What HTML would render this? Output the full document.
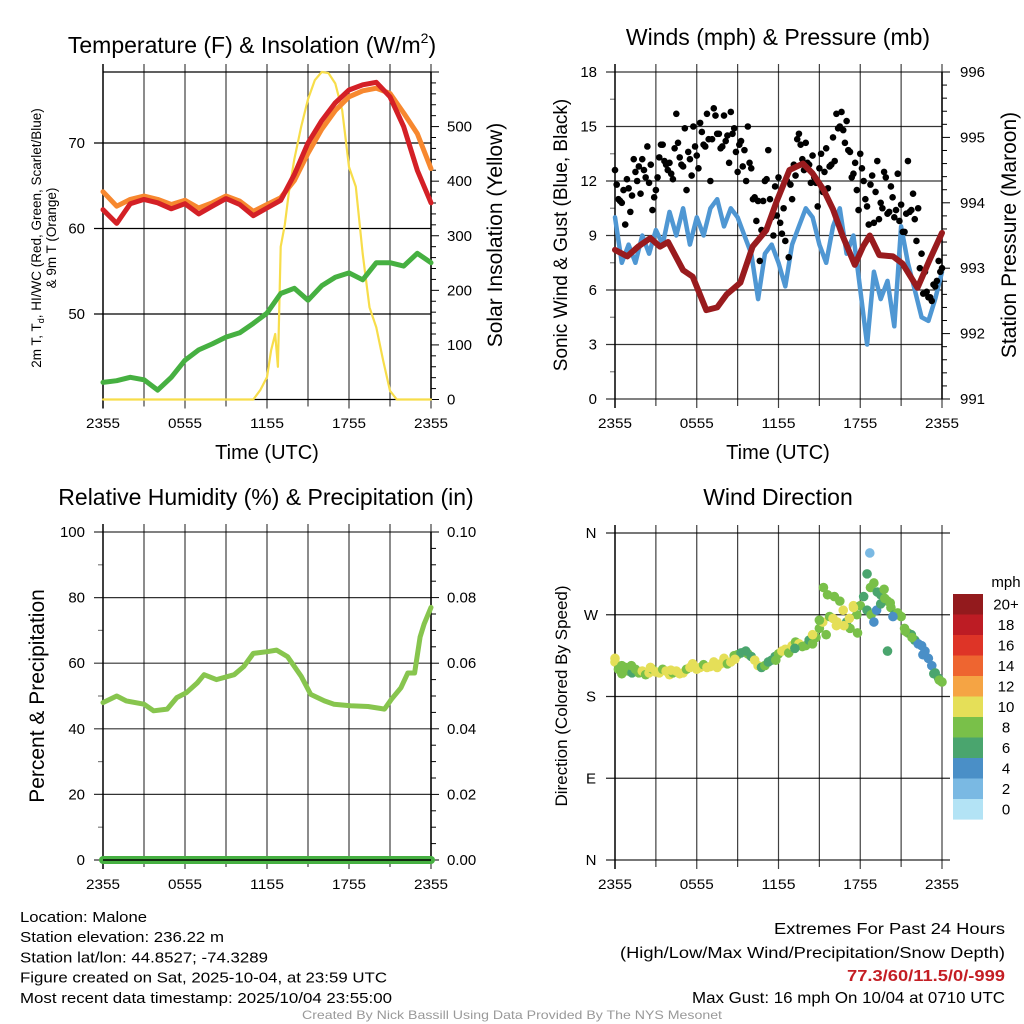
<!DOCTYPE html>
<html><head><meta charset="utf-8"><style>
html,body{margin:0;padding:0;background:#fff}
svg{display:block;font-family:"Liberation Sans",sans-serif}
</style></head><body>
<svg id="c" width="1024" height="1024" viewBox="0 0 1024 1024" xmlns="http://www.w3.org/2000/svg"></svg>
<script>
// ---------- data ----------
const hourly = [0,1,2,3,4,5,6,7,8,9,10,11,12,13,14,15,16,17,18,19,20,21,22,23,24];
const temp2m = [62.2,60.6,62.9,63.4,63.0,62.3,62.9,61.7,62.6,63.5,62.8,61.5,62.4,63.3,66.3,70.0,72.6,74.7,76.2,76.8,77.1,75.4,71.9,66.8,63.0];
const temp9m = [64.3,62.6,63.4,63.8,63.4,62.8,63.3,62.4,63.0,63.8,63.2,62.0,62.8,63.6,65.6,68.8,71.6,73.8,75.4,76.1,76.4,75.8,73.5,71.1,67.0];
const dewpt  = [42.0,42.2,42.6,42.3,41.1,42.6,44.6,45.8,46.5,47.3,47.8,48.9,50.1,52.4,53.0,51.6,53.3,54.3,54.8,54.0,56.0,56.0,55.6,57.1,56.0];
const solarTimes = [0,11,11.5,12,12.3,12.6,12.8,13,13.3,13.6,14,14.5,15,15.5,16,16.5,17,17.5,18,18.5,19,19.5,20,20.5,21,21.5,24];
const solarVals  = [0,0,17,41,90,120,60,280,320,380,440,500,550,585,600,598,579,530,426,390,267,169,132,71,16,0,0];
const halfHour = [0,0.5,1,1.5,2,2.5,3,3.5,4,4.5,5,5.5,6,6.5,7,7.5,8,8.5,9,9.5,10,10.5,11,11.5,12,12.5,13,13.5,14,14.5,15,15.5,16,16.5,17,17.5,18,18.5,19,19.5,20,20.5,21,21.5,22,22.5,23,23.5,24];
const windSpeed = [10,7.5,8.5,7.5,9,8,9.3,8.5,10.3,9,10.5,8.5,10,9,10.5,11,9.5,10.5,10,9,8,5.5,8,8.5,7.5,6.2,8.5,9.5,10.5,10,8.5,7.5,9.5,10.5,8,9,6,3,7,5.5,6.5,4,9.5,7.5,6,4.5,4.3,5.5,7];
const pressTimes = [0,0.9,1.7,2.6,3.3,3.9,5,5.7,6.7,7.5,8.2,9.2,10.1,11.1,11.9,12.8,13.8,14.5,15.3,16,16.7,17.6,18.2,18.7,19.4,20.4,21.1,22.2,23.1,24];
const pressure = [993.28,993.18,993.33,993.46,993.33,993.4,992.97,992.87,992.36,992.4,992.6,992.78,993.33,993.58,994.04,994.5,994.6,994.45,994.2,993.9,993.5,993.05,993.33,993.5,993.2,993.18,993.07,992.7,993.13,993.54];
const gusts = [12.6,11.0,10.8,9.6, 11.6,11.2,12.5,12.8, 13.2,12.2,11.9,10.4, 11.5,13.3,14.0,12.9, 13.0,12.1,15.7,13.3,
 12.8,11.5,13.2,15.0, 13.4,15.2,14.0,15.7, 12.0,16.0,14.6,13.8, 15.6,14.5,15.8,14.9, 12.5,14.2,13.7,15.0,
 12.7,11.1,10.9,9.3, 12.0,13.7,10.0,11.7, 12.2,9.1,8.7,7.8, 11.0,12.3,14.6,13.2, 14.1,12.9,13.4,11.9,
 12.7,11.4,13.8,12.8, 14.4,15.7,15.0,14.8, 15.3,13.6,12.4,11.5, 13.5,12.0,10.6,11.8, 9.7,13.1,10.8,12.5,
 10.2,11.7,10.0,12.4, 10.7,9.2,13.1,10.4, 9.9,10.5,8.0,7.0, 5.6,5.4,6.2,7.6, 7.2];
const gusts2 = [11.8,10.9,11.5,12.1, 10.3,13.2,12.0,11.3, 12.6,13.9,12.9,11.1, 12.2,14.0,13.1,12.6, 12.4,13.8,14.1,12.9,
 14.9,13.6,12.3,13.9, 12.7,14.7,13.9,14.3, 14.3,15.6,14.6,13.9, 14.2,13.0,14.6,13.6, 14.0,12.8,12.0,13.0,
 11.0,9.8,7.6,10.9, 12.1,11.0,9.0,10.1, 9.7,10.5,12.0,11.8, 12.9,14.3,14.0,12.6, 13.0,11.9,12.2,10.6,
 13.5,12.5,11.6,12.9, 13.1,14.9,15.8,14.1, 13.7,12.2,13.0,10.4, 12.7,11.0,9.6,12.3, 11.4,9.9,10.5,12.2,
 10.3,11.1,10.4,9.8, 9.2,10.2,10.3,11.3, 8.7,7.2,5.8,5.9, 5.6,6.3,6.5,7.0];
const rhTimes = [0,1,1.7,3,3.7,4.7,5.4,6.1,6.9,7.4,8.3,9.6,10.3,11,12,12.7,13.5,14.5,15.2,16.2,16.9,18.1,19.4,20.6,21.1,21.8,22.3,22.8,23.2,23.5,24];
const rh = [48,50,48.5,47.5,45.5,46,49.5,51,54,56.5,55,56.5,59,63,63.5,64,62,56,50.5,48.5,47.5,47,46.8,46,49,52.5,57,57,68,72,77];
const precip = [0,0];
const dirDirs = [218,210,205,212,208,206,210,206,208,204,206,210,207,206,210,208,204,206,208,205,206,210,212,214,210,212,215,212,213,218,212,216,222,216,218,225,226,228,229,227,224,220,214,212,214,218,220,224,227,230,232,228,236,240,238,235,236,242,238,245,255,262,248,268,266,258,285,275,262,255,280,270,280,290,275,300,305,295,292,298,285,278,270,272,268,255,250,248,242,238,236,230,222,214,206,200,196];
const dirSpeeds = [11,9,9,9,9,7,9,9,11,9,11,9,11,11,9,11,11,9,11,11,11,9,11,11,11,11,9,11,11,11,11,11,11,9,11,9,9,7,7,9,7,11,11,7,9,7,7,7,9,11,11,9,11,9,11,9,9,7,9,9,9,11,9,9,11,11,9,11,7,9,11,9,9,7,7,9,9,7,7,9,9,9,7,9,9,9,9,7,7,5,5,5,5,5,7,7,9];
const extraTimes = [0,0.5,15.3,15.6,16.3,16.8,17.5,17.8,18.5,18.7,18.8,19,19.2,19.5,20,20.4,20.2,21.3,14.5,15,1.2,2.6,4.1,5.7,7.3,8.8,9.6,11.8,13.2,16.1,17.2,19.8,21.8,22.6,23.4,23.8];
const extraDirs = [222,214,300,292,262,258,278,250,315,338,270,262,275,282,230,268,283,252,248,264,214,212,209,216,214,221,230,220,233,290,266,288,245,226,205,198];
const extraSpeeds = [11,9,9,9,11,11,11,9,7,3,9,5,5,7,7,5,9,9,11,9,9,11,11,11,11,11,7,9,7,9,11,9,9,5,7,9];
const cbLabels = ["20+","18","16","14","12","10","8","6","4","2","0"];
const cbColors = ["#931a1d","#bd1c24","#de3427","#ee6530","#f5a444","#e5df58","#79c049","#4aa56e","#4a8fc7","#7ab9e3","#b3e3f5"];
const timeLabels = ["2355","0555","1155","1755","2355"];

// ---------- helpers ----------
const NS="http://www.w3.org/2000/svg";
const svg=document.getElementById('c');
function mk(tag,attrs,parent){const e=document.createElementNS(NS,tag);for(const k in attrs)e.setAttribute(k,attrs[k]);(parent||svg).appendChild(e);return e;}
function txt(s,x,y,size,anchor,extra,parent){const e=mk('text',Object.assign({x:x,y:y,'font-size':size,'text-anchor':anchor||'middle',fill:'#000'},extra||{}),parent);e.textContent=s;return e;}
function lin(d0,d1,r0,r1){return v=>r0+(v-d0)/(d1-d0)*(r1-r0);}
function poly(xs,ys,fx,fy,color,w,parent){let d='';for(let i=0;i<xs.length;i++)d+=(i?'L':'M')+fx(xs[i]).toFixed(1)+' '+fy(ys[i]).toFixed(1);return mk('path',{d:d,fill:'none',stroke:color,'stroke-width':w,'stroke-linejoin':'round','stroke-linecap':'round'},parent);}
function panelFrame(P,name){
  const g=mk('g',{});
  
  
  for(let i=0;i<=8;i++){const x=P.x0+i*(P.x1-P.x0)/8;mk('line',{x1:x,y1:P.yt-8,x2:x,y2:P.yb+(i%2===0?9:7),stroke:'#000','stroke-width':i===0?2:1.2,'stroke-opacity':0.75},g);}
  return g;
}
function xTicks(P,y,name){
  const g=mk('g',{});
  
  
  timeLabels.forEach((s,i)=>{txt(s,P.x0+i*(P.x1-P.x0)/4,y,14,'middle',{textLength:34,lengthAdjust:'spacingAndGlyphs'},g);});
}

// ===== Panel 1: Temperature =====
const P1={x0:103,x1:431,yt:72,yb:399.5};
const x1f=lin(0,24,P1.x0,P1.x1), yT=lin(40,78.3,P1.yb,P1.yt), yS=lin(0,600,P1.yb,P1.yt);
txt('Temperature (F) & Insolation (W/m',252,53,23,'middle',{}).innerHTML='Temperature (F) &amp; Insolation (W/m<tspan font-size="14" dy="-10">2</tspan><tspan dy="10">)</tspan>';
panelFrame(P1,'temp');
[50,60,70].forEach(v=>{mk('line',{x1:P1.x0-9,y1:yT(v),x2:P1.x1,y2:yT(v),stroke:'#000','stroke-width':1.2});txt(String(v),85,yT(v)+5,15,'end');});
mk('line',{x1:P1.x0,y1:P1.yt,x2:P1.x1,y2:P1.yt,stroke:'#000','stroke-width':1.2});
mk('line',{x1:P1.x0,y1:P1.yb,x2:P1.x1,y2:P1.yb,stroke:'#000','stroke-width':1.2});
mk('line',{x1:P1.x1,y1:P1.yt,x2:P1.x1,y2:P1.yb,stroke:'#000','stroke-width':1.5});
for(let v=0;v<=600;v+=20){const y=yS(v);mk('line',{x1:P1.x1,y1:y,x2:P1.x1+(v%100===0?8:5),y2:y,stroke:'#000','stroke-width':1});if(v%100===0&&v<600)txt(String(v),447,y+5,15,'start');}
poly(solarTimes,solarVals,x1f,yS,'#f7dd4a',2.2);
poly(hourly,dewpt,x1f,yT,'#46b041',5);
poly(hourly,temp9m,x1f,yT,'#f7882f',5);
poly(hourly,temp2m,x1f,yT,'#d42026',5);
xTicks(P1,428,'temp');
txt('Time (UTC)',267,459,20,'middle',{});
const l1=txt('',0,0,13.5,'middle',{transform:'translate(41,238) rotate(-90)',});
l1.innerHTML='2m T, T<tspan font-size="9" dy="3">d</tspan><tspan dy="-3">, HI/WC (Red, Green, Scarlet/Blue)</tspan>';
txt('& 9m T (Orange)',0,0,13.5,'middle',{transform:'translate(56,238) rotate(-90)'});
txt('Solar Insolation (Yellow)',0,0,21,'middle',{transform:'translate(502,235) rotate(-90)',});

// ===== Panel 2: Winds =====
const P2={x0:615,x1:942,yt:72,yb:399};
const x2f=lin(0,24,P2.x0,P2.x1), yW=lin(0,18,P2.yb,P2.yt), yP=lin(991,996,P2.yb,P2.yt);
txt('Winds (mph) & Pressure (mb)',778,45,23,'middle',{});
panelFrame(P2,'winds');
for(let v=0;v<=18;v+=1.5){const y=yW(v);const major=v%3===0;mk('line',{x1:P2.x0-(major?9:5),y1:y,x2:major?P2.x1:P2.x0,y2:y,stroke:'#000','stroke-width':1.2,'stroke-opacity':major?0.8:0.5});if(major)txt(String(v),597,y+5,15,'end');}
mk('line',{x1:P2.x1,y1:P2.yt,x2:P2.x1,y2:P2.yb,stroke:'#000','stroke-width':1.5});
for(let v=991;v<=996.001;v+=0.2){const y=yP(v);const major=Math.abs(v-Math.round(v))<0.01;mk('line',{x1:P2.x1,y1:y,x2:P2.x1+(major?8:5),y2:y,stroke:'#000','stroke-width':1});if(major)txt(String(Math.round(v)),960,y+5,15,'start');}
poly(halfHour,windSpeed,x2f,yW,'#4f97d3',4.5);
const gg=mk('g',{});


gusts.forEach((v,i)=>{mk('circle',{cx:x2f(i*0.25),cy:yW(v),r:3.3,fill:'#000'},gg);});
gusts2.forEach((v,i)=>{mk('circle',{cx:x2f(i*0.25+0.125),cy:yW(v),r:3.3,fill:'#000'},gg);});
poly(pressTimes,pressure,x2f,yP,'#991b1e',6);
xTicks(P2,428,'winds');
txt('Time (UTC)',778,459,20,'middle',{});
txt('Sonic Wind & Gust (Blue, Black)',0,0,19,'middle',{transform:'translate(567,235) rotate(-90)',});
txt('Station Pressure (Maroon)',0,0,21,'middle',{transform:'translate(1016,235) rotate(-90)',});

// ===== Panel 3: RH =====
const P3={x0:103,x1:431,yt:532,yb:860};
const x3f=lin(0,24,P3.x0,P3.x1), yR=lin(0,100,P3.yb,P3.yt), yPr=lin(0,0.1,P3.yb,P3.yt);
txt('Relative Humidity (%) & Precipitation (in)',266,505,23,'middle',{});
panelFrame(P3,'rh');
for(let v=0;v<=100;v+=10){const y=yR(v);const major=v%20===0;mk('line',{x1:P3.x0-(major?9:5),y1:y,x2:major?P3.x1:P3.x0,y2:y,stroke:'#000','stroke-width':1.2,'stroke-opacity':major?0.8:0.5});if(major)txt(String(v),85,y+5,15,'end');}
mk('line',{x1:P3.x1,y1:P3.yt,x2:P3.x1,y2:P3.yb,stroke:'#000','stroke-width':1.5});
for(let k=0;k<=20;k++){const v=k*0.005;const y=yPr(v);mk('line',{x1:P3.x1,y1:y,x2:P3.x1+(k%4===0?8:5),y2:y,stroke:'#000','stroke-width':1});if(k%4===0)txt(v.toFixed(2),447,y+5,15,'start');}
poly(rhTimes,rh,x3f,yR,'#87c54e',5);
poly([0,24],precip,x3f,yPr,'#46b041',8);
mk('line',{x1:P3.x0,y1:P3.yb,x2:P3.x1,y2:P3.yb,stroke:'#000','stroke-width':1.5});
xTicks(P3,889,'rh');
txt('Percent & Precipitation',0,0,21,'middle',{transform:'translate(44,696) rotate(-90)',});

// ===== Panel 4: Wind direction =====
const P4={x0:615,x1:942,yt:533,yb:860};
const x4f=lin(0,24,P4.x0,P4.x1), yD=lin(0,360,P4.yb,P4.yt);
txt('Wind Direction',778,505,23,'middle',{});
panelFrame(P4,'direction');
['N','E','S','W','N'].forEach((s,i)=>{const y=yD(i*90);mk('line',{x1:P4.x0-9,y1:y,x2:P4.x1+8,y2:y,stroke:'#000','stroke-width':1.2,'stroke-opacity':0.85});txt(s,591,y+5,15,'middle');});
function binColor(s){let b=Math.min(10,Math.floor(s/2));return cbColors[10-b];}
const dg=mk('g',{});


dirDirs.forEach((d,i)=>{mk('circle',{cx:x4f(i*0.25),cy:yD(d),r:4.8,fill:binColor(dirSpeeds[i])},dg);});
extraDirs.forEach((d,i)=>{mk('circle',{cx:x4f(extraTimes[i]),cy:yD(d),r:4.8,fill:binColor(extraSpeeds[i])},dg);});
xTicks(P4,889,'direction');
txt('Direction (Colored By Speed)',0,0,17,'middle',{transform:'translate(567,696) rotate(-90)',});
// colorbar
const cb=mk('g',{});


txt('mph',1006,587,15,'middle',{},cb);
cbColors.forEach((c,i)=>{const y=594+i*20.5;mk('rect',{x:953,y:y,width:30,height:20.6,fill:c},cb);txt(cbLabels[i],1006,y+15.5,15,'middle',{},cb);});

// ===== Footer text =====
const info=[["Location: Malone",127],["Station elevation: 236.22 m",204],["Station lat/lon: 44.8527; -74.3289",248],["Figure created on Sat, 2025-10-04, at 23:59 UTC",367],["Most recent data timestamp: 2025/10/04 23:55:00",372]];
info.forEach((r,i)=>{txt(r[0],20,922+i*20.2,15,'start',{textLength:r[1],lengthAdjust:'spacingAndGlyphs',});});
txt('Extremes For Past 24 Hours',1005,934,16,'end',{textLength:231,lengthAdjust:'spacingAndGlyphs',});
txt('(High/Low/Max Wind/Precipitation/Snow Depth)',1005,958,16,'end',{textLength:385,lengthAdjust:'spacingAndGlyphs',});
txt('77.3/60/11.5/0/-999',1005,981,16,'end',{fill:'#c41e24','font-weight':'bold',textLength:158,lengthAdjust:'spacingAndGlyphs',});
txt('Max Gust: 16 mph On 10/04 at 0710 UTC',1005,1003,16,'end',{textLength:313,lengthAdjust:'spacingAndGlyphs',});
txt('Created By Nick Bassill Using Data Provided By The NYS Mesonet',512,1019,12,'middle',{fill:'#999',textLength:420,lengthAdjust:'spacingAndGlyphs',});
</script>
</body></html>
